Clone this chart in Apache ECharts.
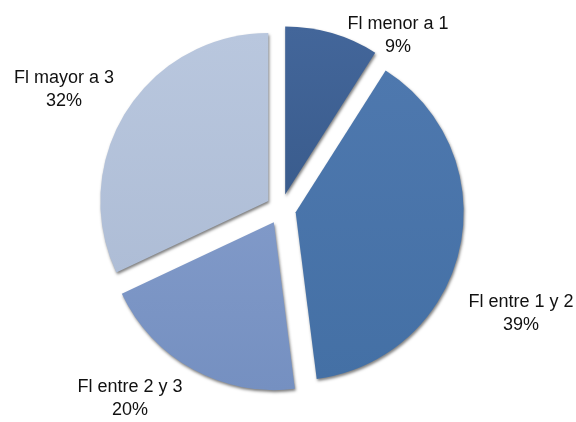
<!DOCTYPE html>
<html>
<head>
<meta charset="utf-8">
<script src="https://cdn.jsdelivr.net/npm/echarts@6/dist/echarts.min.js"></script>
<style>
  html, body { margin: 0; padding: 0; background: #ffffff; }
  #chart { width: 576px; height: 422px; }
</style>
</head>
<body>
<div id="chart"></div>
<script>
// Distribution of the FI ratio, in percent of cases
const categories = ['Fl menor a 1', 'Fl entre 1 y 2', 'Fl entre 2 y 3', 'Fl mayor a 3'];
const shares = [9, 39, 20, 32];

// Slice fills, darkest to lightest
const sliceTop = ['#43669a', '#4e78ae', '#8099c8', '#b9c7de'];
const sliceBottom = ['#3a5c8d', '#4470a5', '#7590c1', '#aebdd6'];

// Centre point of each label block
const labelSpots = [[398, 36], [521, 314], [130, 399], [64, 90]];

const pieCenter = [281, 209];
const pieRadius = 168;

const chart = echarts.init(document.getElementById('chart'), null, { renderer: 'canvas' });

// Exploded slices
const sliceData = categories.map(function (name, i) {
  return {
    name: name,
    value: shares[i],
    selected: true,
    itemStyle: {
      color: new echarts.graphic.LinearGradient(0, 0, 0, 1, [
        { offset: 0, color: sliceTop[i] },
        { offset: 1, color: sliceBottom[i] }
      ])
    }
  };
});

// Same values again, carrying only the text labels
const labelData = categories.map(function (name, i) {
  return { name: name, value: shares[i] };
});

chart.setOption({
  backgroundColor: '#ffffff',
  animation: false,
  series: [{
    type: 'pie',
    center: pieCenter,
    radius: pieRadius,
    startAngle: 90,
    clockwise: true,
    selectedMode: 'multiple',
    selectedOffset: 15,
    emphasis: { disabled: true },
    itemStyle: {
      borderWidth: 0,
      shadowColor: 'rgba(0, 0, 0, 0.5)',
      shadowBlur: 3,
      shadowOffsetX: 1,
      shadowOffsetY: 2
    },
    label: { show: false },
    labelLine: { show: false },
    data: sliceData
  }, {
    type: 'pie',
    center: pieCenter,
    radius: pieRadius,
    startAngle: 90,
    clockwise: true,
    silent: true,
    z: 3,
    emphasis: { disabled: true },
    itemStyle: { color: 'rgba(0,0,0,0)', borderWidth: 0 },
    label: {
      show: true,
      position: 'outside',
      overflow: 'none',
      formatter: function (p) { return p.name + '\n' + p.value + '%'; },
      fontFamily: 'Liberation Sans, Arial, sans-serif',
      fontSize: 18,
      lineHeight: 23,
      color: '#111111',
      align: 'center'
    },
    labelLine: { show: false },
    labelLayout: function (p) {
      const spot = labelSpots[p.dataIndex];
      return { x: spot[0], y: spot[1], align: 'center', verticalAlign: 'middle' };
    },
    data: labelData
  }]
});
</script>
</body>
</html>
